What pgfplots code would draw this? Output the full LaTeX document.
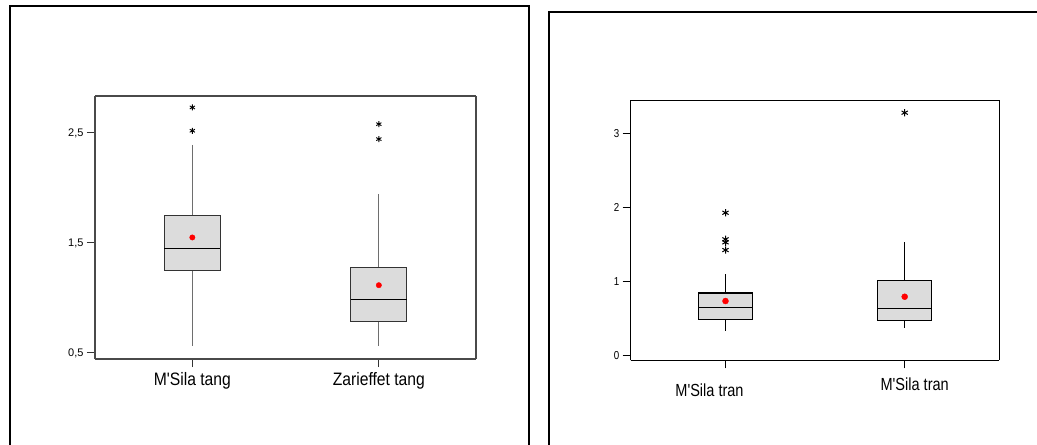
\documentclass[border=0pt]{standalone}
\usepackage{pgfplots}
\pgfplotsset{compat=1.18}
\usepgfplotslibrary{statistics}
\usepackage{fontspec}
\setmainfont{Liberation Sans}
\newfontfamily\lnarrow[FakeStretch=0.87]{Liberation Sans}
\newfontfamily\rnarrow[FakeStretch=0.83]{Liberation Sans}
\newfontfamily\tnarrow[FakeStretch=0.85]{Liberation Sans}
\definecolor{boxfill}{HTML}{DCDCDC}
\definecolor{ledge}{HTML}{333333}
\definecolor{lwhisk}{HTML}{6E6E6E}
\definecolor{lframe}{HTML}{4A4A4A}
\begin{document}
\begin{tikzpicture}
\useasboundingbox (0,0) rectangle (1037bp,445bp);
\fill[white] (0,0) rectangle (1037bp,445bp);
\draw[line width=2bp, black] (9.5bp,-3bp) -- (9.5bp,439.3bp) -- (528.7bp,439.3bp) -- (528.7bp,-3bp);
\draw[line width=2bp, black] (549bp,-3bp) -- (549bp,432.7bp) -- (1040bp,432.7bp);

\begin{axis}[at={(95bp,86bp)}, anchor=south west, scale only axis,
  width=381bp, height=263bp,
  boxplot/draw direction=y,
  xmin=0.478, xmax=2.521, ymin=0.445, ymax=2.836,
  xtick={1,2}, xticklabels={M'Sila tang, Zarieffet tang},
  ytick={0.5,1.5,2.5}, yticklabels={{0,5},{1,5},{2,5}},
  tick pos=left, tick align=outside, major tick length=8bp,
  tick style={draw=ledge, line width=1bp},
  separate axis lines,
  axis line style={draw=lframe, line width=1.2bp},
  xticklabel style={font=\lnarrow\fontsize{18bp}{20bp}\selectfont, anchor=base, yshift=-18bp},
  yticklabel style={font=\fontsize{11bp}{13bp}\selectfont, anchor=east},
  clip=false]
\addplot[draw=ledge, fill=boxfill, line width=1.1bp, mark=none,
  boxplot prepared={draw position=1, lower whisker=0.566, lower quartile=1.25,
    median=1.453, upper quartile=1.753, upper whisker=2.395,
    box extend=0.3, whisker extend=0,
    every whisker/.style={draw=lwhisk, line width=1bp},
    every median/.style={draw=black, line width=1.2bp}}] coordinates {};
\addplot[draw=ledge, fill=boxfill, line width=1.1bp, mark=none,
  boxplot prepared={draw position=2, lower whisker=0.562, lower quartile=0.786,
    median=0.984, upper quartile=1.28, upper whisker=1.947,
    box extend=0.3, whisker extend=0,
    every whisker/.style={draw=lwhisk, line width=1bp},
    every median/.style={draw=black, line width=1.2bp}}] coordinates {};
\addplot[only marks, mark=*, mark size=2.7bp, color=red, mark options={fill=red, draw=red}]
  coordinates {(1,1.55) (2,1.116)};
\addplot[only marks, mark=asterisk, mark size=3bp, color=black, mark options={line width=0.9bp}]
  coordinates {(1,2.732) (1,2.52) (2,2.58) (2,2.444)};
\end{axis}

\begin{axis}[at={(630.7bp,84.7bp)}, anchor=south west, scale only axis,
  width=368.6bp, height=259.8bp,
  boxplot/draw direction=y,
  xmin=0.471, xmax=2.528, ymin=-0.062, ymax=3.449,
  xtick={1,2},
  xticklabels={{\makebox[0pt]{\hspace*{-32bp}M'Sila tran}},{\raisebox{5.3bp}{\makebox[0pt]{\hspace*{20bp}M'Sila tran}}}},
  ytick={0,1,2,3},
  tick pos=left, tick align=outside, major tick length=8bp,
  tick style={draw=black, line width=1bp},
  separate axis lines,
  axis line style={draw=black, line width=1.3bp},
  xticklabel style={font=\rnarrow\fontsize{17.5bp}{20bp}\selectfont, anchor=base, yshift=-27.7bp},
  yticklabel style={font=\tnarrow\fontsize{11.5bp}{13bp}\selectfont, anchor=east},
  yticklabels={0,1,2,3},
  clip=false]
\addplot[draw=black, fill=boxfill, line width=1.1bp, mark=none,
  boxplot prepared={draw position=1, lower whisker=0.338, lower quartile=0.492,
    median=0.654, upper quartile=0.847, upper whisker=1.104,
    box extend=0.3, whisker extend=0,
    every whisker/.style={draw=black, line width=1bp},
    every median/.style={draw=black, line width=1.2bp}}] coordinates {};
\addplot[draw=black, fill=boxfill, line width=1.1bp, mark=none,
  boxplot prepared={draw position=2, lower whisker=0.378, lower quartile=0.478,
    median=0.64, upper quartile=1.019, upper whisker=1.536,
    box extend=0.3, whisker extend=0,
    every whisker/.style={draw=black, line width=1bp},
    every median/.style={draw=black, line width=1.2bp}}] coordinates {};
\addplot[only marks, mark=*, mark size=3bp, color=red, mark options={fill=red, draw=red}]
  coordinates {(1,0.739) (2,0.797)};
\addplot[only marks, mark=asterisk, mark size=3.6bp, color=black, mark options={line width=1bp}]
  coordinates {(1,1.932) (1,1.573) (1,1.532) (1,1.428) (2,3.284)};
\end{axis}
\end{tikzpicture}
\end{document}
